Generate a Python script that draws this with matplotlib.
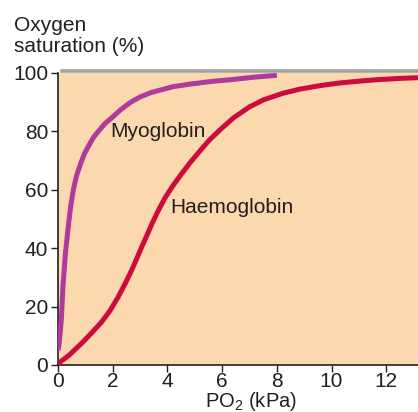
import numpy as np
import matplotlib.pyplot as plt

plt.rcParams['font.family'] = ['Liberation Sans', 'DejaVu Sans']
plt.rcParams['mathtext.fontset'] = 'custom'
plt.rcParams['mathtext.rm'] = 'Liberation Sans'

# partial pressure of oxygen (kPa) and % saturation
myo_po2 = [0.0, 0.05, 0.12, 0.18, 0.27, 0.39, 0.47, 0.57, 0.68, 0.82, 0.96, 1.12,
           1.3, 1.49, 1.72, 1.97, 2.3, 2.64, 3.0, 3.4, 4.2, 4.83, 5.6, 6.41, 7.2, 8.0]
myo_sat = [5, 8, 15.4, 26.7, 38.1, 48.6, 54.8, 60.4, 64.9, 68.8, 72.2, 75.1,
           78, 80.2, 82.7, 84.7, 87.5, 89.9, 91.8, 93.3, 95.3, 96.2, 97.1, 97.8, 98.6, 99.2]

hb_po2 = [0.0, 0.4, 0.87, 1.2, 1.6, 1.9, 2.2, 2.45, 2.69, 2.88, 3.06, 3.25, 3.43,
          3.65, 3.91, 4.2, 4.52, 4.83, 5.25, 5.56, 6.0, 6.41, 7.0, 7.51, 8.2, 8.85,
          9.6, 10.31, 11.0, 11.65, 12.4, 13.16]
hb_sat = [0.5, 3.3, 7.5, 10.7, 14.8, 18.6, 23.3, 27.8, 32.4, 36.5, 40.4, 44.4, 48.3,
          52.6, 57.2, 61.4, 65.5, 69.3, 74.0, 77.3, 81.2, 84.6, 88.4, 90.8, 93.0, 94.5,
          95.7, 96.6, 97.2, 97.7, 98.1, 98.4]

xticks = [0, 2, 4, 6, 8, 10, 12]
yticks = [0, 20, 40, 60, 80, 100]

fig = plt.figure(figsize=(4.18, 4.12), dpi=100)
ax = fig.add_axes([58/418, 47/412, 1 - 58/418, 292/412])
ax.set_facecolor('#fcd8ae')

ax.plot(myo_po2, myo_sat, color='#b03a9b', lw=3.6, solid_capstyle='butt',
        solid_joinstyle='round', zorder=3)
ax.plot(hb_po2, hb_sat, color='#cc0a3e', lw=3.6, solid_capstyle='butt',
        solid_joinstyle='round', zorder=3)

# grey line marking full saturation
ax.plot([0.16, 13.2], [100.6, 100.6], color='#a3a3a3', lw=2.6, clip_on=False, zorder=2)

ax.text(1.9, 80, 'Myoglobin', fontsize=15, va='center', color='#231f20')
ax.text(4.1, 54, 'Haemoglobin', fontsize=15, va='center', color='#231f20')

ax.set_xlim(0, 13.16)
ax.set_ylim(0, 100)
ax.set_xticks(xticks)
ax.set_yticks(yticks)
ax.tick_params(direction='out', length=5, width=1, labelsize=15, colors='#231f20', pad=2)
ax.tick_params(axis='x', pad=0.3)
for s in ['top', 'right']:
    ax.spines[s].set_visible(False)
for s in ['left', 'bottom']:
    ax.spines[s].set_linewidth(1.2)
    ax.spines[s].set_color('#231f20')

fig.text(14/418, 1 - 16/412, 'Oxygen\nsaturation (%)', fontsize=15, ha='left', va='top',
         linespacing=1.1, color='#231f20')
fig.text(251/418, 5/412, 'PO$_{2}$ (kPa)', fontsize=14.5, ha='center', va='baseline', color='#231f20')

fig.savefig('out.png', dpi=100)
